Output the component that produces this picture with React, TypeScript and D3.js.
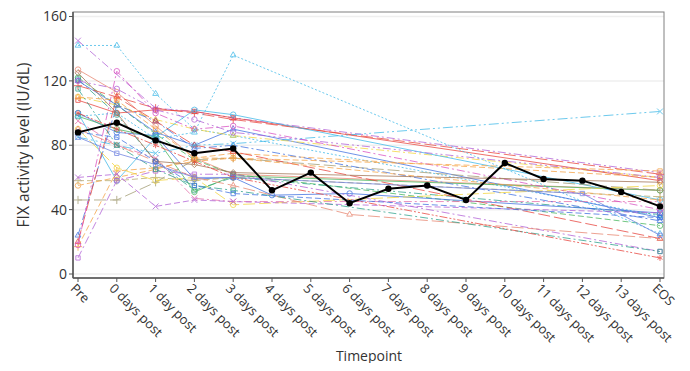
import * as d3 from 'd3';

const timepoints = [
  'Pre', '0 days post', '1 day post', '2 days post', '3 days post', '4 days post',
  '5 days post', '6 days post', '7 days post', '8 days post', '9 days post',
  '10 days post', '11 days post', '12 days post', '13 days post', 'EOS',
];

const yTicks = [0, 40, 80, 120, 160];

// mean FIX activity per timepoint
const meanValues = [88, 94, 83, 75, 78, 52, 63, 44, 53, 55, 46, 69, 59, 58, 51, 42];

const n = null;
// individual participants: Pre, 0d, 1d, 2d, 3d, 4d ... 13d, EOS
const patientValues: (number | null)[][] = [
  [145, n, 103, 101, 97, n, n, n, n, n, n, n, n, n, n, 63],
  [142, 142, 112, 90, 86, n, n, n, n, n, n, n, n, n, n, 36],
  [127, 113, 92, 72, 62, n, n, n, n, n, n, n, n, n, n, 52],
  [122, 105, 87, 71, 62, n, n, n, n, n, n, n, n, n, n, 30],
  [121, 99, 70, 52, 60, n, n, n, n, n, n, n, n, n, n, 37],
  [120, 105, 88, 80, 90, n, n, n, n, n, n, n, n, n, n, 35],
  [117, 110, 103, 100, 96, n, n, n, n, n, n, n, n, n, n, 62],
  [110, 105, 96, 90, 86, n, n, n, n, n, n, n, n, n, n, 60],
  [108, 100, 102, 101, 97, n, n, n, n, n, n, n, n, n, n, 58],
  [100, 88, 86, 59, 60, 49, n, 50, n, n, n, n, n, n, n, 38],
  [98, 90, 85, 51, 61, n, n, n, n, n, n, n, n, n, n, 52],
  [95, 80, 72, 47, 45, n, n, n, n, n, n, n, n, n, n, 45],
  [100, 58, 85, 102, 99, n, n, n, n, n, n, n, n, n, n, 46],
  [58, 58, 60, 58, 60, n, n, n, n, n, n, n, n, n, n, 48],
  [55, 60, 65, 72, 75, n, n, n, n, n, n, n, n, n, n, 60],
  [46, 46, 57, 71, 72, n, n, n, n, n, n, n, n, n, n, 52],
  [24, 105, 95, 78, 80, n, n, n, n, n, n, n, n, n, n, 33],
  [20, 110, 95, 80, 76, n, n, n, n, n, n, n, n, n, n, 22],
  [17, 64, 66, 70, 72, n, n, n, n, n, n, n, n, n, n, 46],
  [10, 58, 64, 62, 62, n, n, n, n, n, n, n, n, n, n, 14],
  [18, 126, 100, 90, 92, n, n, n, n, n, n, n, n, n, n, 40],
  [85, 80, 75, 80, 81, n, n, n, n, n, n, n, n, n, n, 101],
  [98, 100, 84, 88, 136, n, n, n, n, n, n, n, n, n, n, 25],
  [90, 66, 58, 60, 43, n, n, n, n, n, n, n, n, n, n, 55],
  [60, 62, 42, 46, 45, n, n, n, n, n, n, n, n, n, n, 38],
  [90, 80, 70, 60, 55, n, n, 37, n, n, n, n, n, n, n, 22],
  [125, 100, 70, 68, 63, n, n, n, n, n, n, n, n, n, n, 57],
  [115, 80, 65, 55, 52, n, n, n, n, n, n, n, n, n, n, 14],
  [100, 90, 80, 70, 60, n, n, n, n, n, n, n, n, n, n, 10],
  [88, 85, 70, 55, 50, n, n, n, n, n, n, n, n, n, n, 35],
  [120, 115, 102, 96, 88, n, n, n, n, n, n, n, n, n, n, 60],
  [110, 108, 90, 72, 72, n, n, n, n, n, n, n, n, n, n, 64],
  [85, 75, 68, 60, 60, n, n, n, n, n, n, n, n, 50, n, 24],
];

const patientColors = [
  '#b05ed6', '#3cb8e8', '#e8846e', '#44b55a', '#2aa08a', '#3d6fe0', '#e8413a', '#f3d43a',
  '#e8413a', '#3d6fe0', '#44b55a', '#e46ba8', '#3cb8e8', '#b4a96a', '#f5a142', '#a09a70',
  '#3d6fe0', '#e8413a', '#f5a142', '#b05ed6', '#d94ec2', '#3cb8e8', '#3cb8e8', '#f3d43a',
  '#b05ed6', '#e8846e', '#a07050', '#2aa08a', '#e8413a', '#3d6fe0', '#b05ed6', '#f5a142',
  '#6b7fe0',
];

const patientDashes = [
  '8,3,2,3', '2,2', '', '6,3', '8,3,2,3', '', '12,4', '8,3,2,3',
  '', '', '', '8,3,2,3', '', '6,3', '6,3', '12,4',
  '8,3,2,3', '12,4', '6,3', '8,3,2,3', '8,3,2,3', '10,3,2,3,2,3', '2,2', '12,4',
  '6,3', '12,4', '', '8,3,2,3', '8,2,2,2,2,2', '6,3', '8,3,2,3,2,3', '6,3',
  '',
];

const patientMarkers = [
  'x', 'triangle', 'circle', 'circle', 'circle', 'triangle', 'plus', 'triangle',
  'square', 'circle', 'circle', 'x', 'circle', 'plus', 'circle', 'plus',
  'triangle', 'triangle', 'plus', 'square', 'circle', 'x', 'triangle', 'circle',
  'x', 'triangle', 'diamond', 'square', 'asterisk', 'square', 'circle', 'square',
  'square',
];

const W = 690;
const H = 371;
const plot = { left: 73, right: 664, top: 12, bottom: 278 };

const symbolTypes: Record<string, d3.SymbolType> = {
  circle: d3.symbolCircle,
  square: d3.symbolSquare2,
  triangle: d3.symbolTriangle2,
  x: d3.symbolTimes,
  plus: d3.symbolPlus,
  diamond: d3.symbolDiamond2,
  asterisk: d3.symbolAsterisk,
};

export default function App() {
  const x = d3.scalePoint<string>().domain(timepoints).range([78, 660]);
  const y = d3.scaleLinear().domain([0, 160]).range([274, 16.5]);
  const line = d3
    .line<[string, number]>()
    .x((d) => x(d[0]) as number)
    .y((d) => y(d[1]));

  const toPts = (vals: (number | null)[]) =>
    vals
      .map((v, i) => [timepoints[i], v] as [string, number | null])
      .filter((d) => d[1] != null) as [string, number][];

  const font = "'Open Sans', sans-serif";

  return (
    <svg width={W} height={H} style={{ display: 'block', margin: '-8px' }} fontFamily={font}>
      <rect x={0} y={0} width={W} height={H} fill="#fff" />
      {yTicks.map((t) => (
        <line key={t} x1={plot.left} x2={plot.right} y1={y(t)} y2={y(t)} stroke="#efefef" strokeWidth={1.5} />
      ))}
      <rect
        x={plot.left}
        y={plot.top}
        width={plot.right - plot.left}
        height={plot.bottom - plot.top}
        fill="none"
        stroke="#808080"
        strokeWidth={1}
      />
      <line x1={plot.left} x2={plot.left} y1={plot.top} y2={plot.bottom} stroke="#555" strokeWidth={1.5} />
      <line x1={plot.left} x2={plot.right} y1={plot.bottom} y2={plot.bottom} stroke="#555" strokeWidth={1.5} />

      {patientValues.map((vals, i) => {
        const pts = toPts(vals);
        const sym = d3.symbol().type(symbolTypes[patientMarkers[i]]).size(24)();
        return (
          <g key={i} opacity={0.75}>
            <path
              d={line(pts) ?? ''}
              fill="none"
              stroke={patientColors[i]}
              strokeWidth={1}
              strokeDasharray={patientDashes[i] || undefined}
            />
            {pts.map((p, j) => (
              <path
                key={j}
                d={sym ?? ''}
                transform={`translate(${x(p[0])},${y(p[1])})`}
                fill="none"
                stroke={patientColors[i]}
                strokeWidth={1}
              />
            ))}
          </g>
        );
      })}

      <path
        d={line(meanValues.map((v, i) => [timepoints[i], v] as [string, number])) ?? ''}
        fill="none"
        stroke="#000"
        strokeWidth={2}
      />
      {meanValues.map((v, i) => (
        <circle key={i} cx={x(timepoints[i])} cy={y(v)} r={3.2} fill="#000" />
      ))}

      {yTicks.map((t) => (
        <g key={t} transform={`translate(${plot.left},${y(t)})`}>
          <line x1={-4} x2={0} stroke="#555" />
          <text x={-6} dy="0.35em" textAnchor="end" fontSize={14} fill="#333">
            {t}
          </text>
        </g>
      ))}

      {timepoints.map((t) => (
        <g key={t} transform={`translate(${x(t)},${plot.bottom})`}>
          <line y1={0} y2={4} stroke="#555" />
          <text
            transform="translate(-5,8) rotate(45)"
            dy="0.35em"
            fontSize={13}
            fill="#333"
          >
            {t}
          </text>
        </g>
      ))}

      <text x={369} y={361} textAnchor="middle" fontSize={14} fill="#333">
        Timepoint
      </text>
      <text
        transform={`translate(29,${(plot.top + plot.bottom) / 2}) rotate(-90)`}
        textAnchor="middle"
        fontSize={15.5}
        fill="#333"
      >
        FIX activity level (IU/dL)
      </text>
    </svg>
  );
}
